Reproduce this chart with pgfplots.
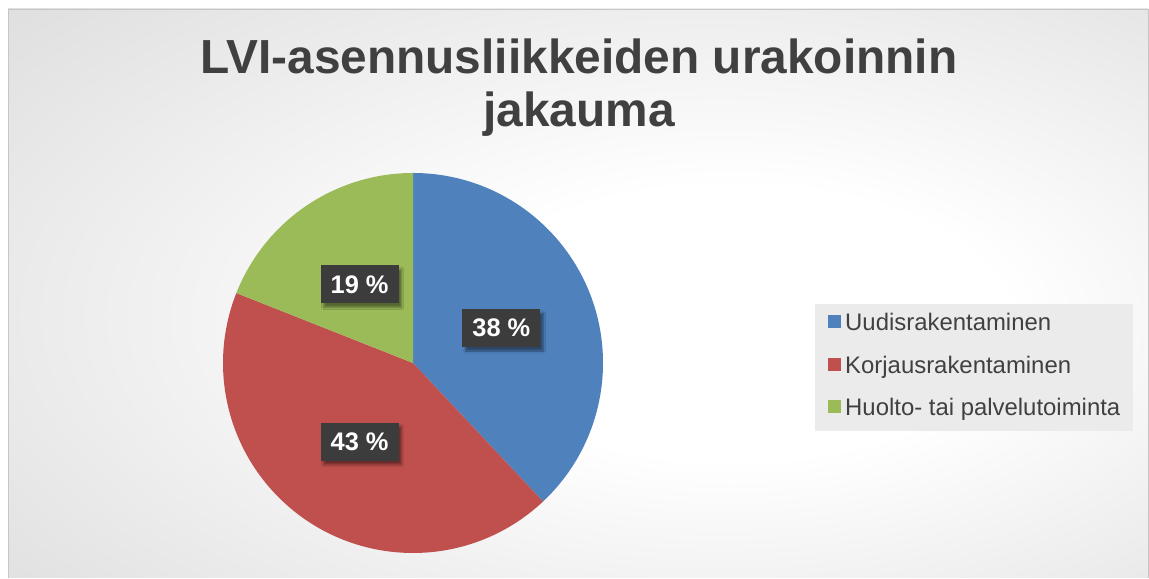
\documentclass[border=0pt]{standalone}
\usepackage{pgfplots}
\pgfplotsset{compat=1.18}
\usepackage{fontspec}
\setmainfont{Liberation Sans}
\usetikzlibrary{shadows.blur}
\definecolor{pieblue}{HTML}{4F81BD}
\definecolor{piered}{HTML}{C0504D}
\definecolor{piegreen}{HTML}{9BBB59}
\definecolor{titlegray}{HTML}{404040}
\definecolor{legtext}{HTML}{404040}
\definecolor{legfill}{HTML}{EBEBEB}
\definecolor{labfill}{HTML}{3C3C3C}
\pgfdeclareradialshading{bgshade}{\pgfpoint{8bp}{-3bp}}{color(0bp)=(white); color(12bp)=(white); color(45bp)=(gray!30); color(65bp)=(gray!40); color(85bp)=(gray!46)}
\begin{document}
\begin{tikzpicture}
\begin{axis}[
  x=1bp, y=1bp, xmin=0, xmax=1149, ymin=0, ymax=578,
  hide axis, clip=false,
  legend cell align=left,
  legend style={at={(axis cs:815,274.5)}, anchor=north west, fill=legfill, draw=none,
    font=\fontsize{24}{28}\selectfont, text=legtext,
    inner xsep=13bp, inner ysep=10bp, row sep=20.5bp, column sep=4bp,
    nodes={inner sep=0pt, text height=17bp, text depth=5bp}},
  legend image code/.code={\fill[#1] (0bp,-3.5bp) rectangle (13bp,9.5bp);},
]
\pgfplotsextra{
  \fill[white] (axis cs:0,0) rectangle (axis cs:1149,578);
  \shade[shading=bgshade] (axis cs:8,0) rectangle (axis cs:1148,569);
  \draw[gray!45, line width=0.8bp] (axis cs:8,0) -- (axis cs:8,569) -- (axis cs:1148,569) -- (axis cs:1148,0);
  % pie wedges: values in percent
  \xdef\angA{90}
  \foreach \v/\c in {38/pieblue, 43/piered, 19/piegreen} {
    \pgfmathsetmacro\endang{\angA-3.6*\v}
    \fill[\c] (axis cs:413,215) -- ++(\angA:190bp) arc[start angle=\angA, end angle=\endang, radius=190bp] -- cycle;
    \global\let\angA\endang
  }
  \xdef\angA{90}
  \foreach \v in {38, 43, 19} {
    \pgfmathsetmacro\endang{\angA-3.6*\v}
    \pgfmathsetmacro\midang{\angA-1.8*\v}
    \path (axis cs:413,215) ++(\midang:95bp) node[fill=labfill, text=white,
      font=\bfseries\fontsize{25.5}{28}\selectfont, minimum width=78bp, minimum height=38bp, inner sep=0pt,
      blur shadow={shadow xshift=3bp, shadow yshift=-4bp, shadow blur steps=6, shadow opacity=45}] {\v\ \%};
    \global\let\angA\endang
  }
  \node[anchor=base, font=\bfseries\fontsize{48}{54}\selectfont, text=titlegray] at (axis cs:579,504) {LVI-asennusliikkeiden urakoinnin};
  \node[anchor=base, font=\bfseries\fontsize{48}{54}\selectfont, text=titlegray] at (axis cs:579,451) {jakauma};
}
\addlegendimage{fill=pieblue, draw=none}
\addlegendentry{Uudisrakentaminen}
\addlegendimage{fill=piered, draw=none}
\addlegendentry{Korjausrakentaminen}
\addlegendimage{fill=piegreen, draw=none}
\addlegendentry{Huolto- tai palvelutoiminta}
\end{axis}
\end{tikzpicture}
\end{document}
